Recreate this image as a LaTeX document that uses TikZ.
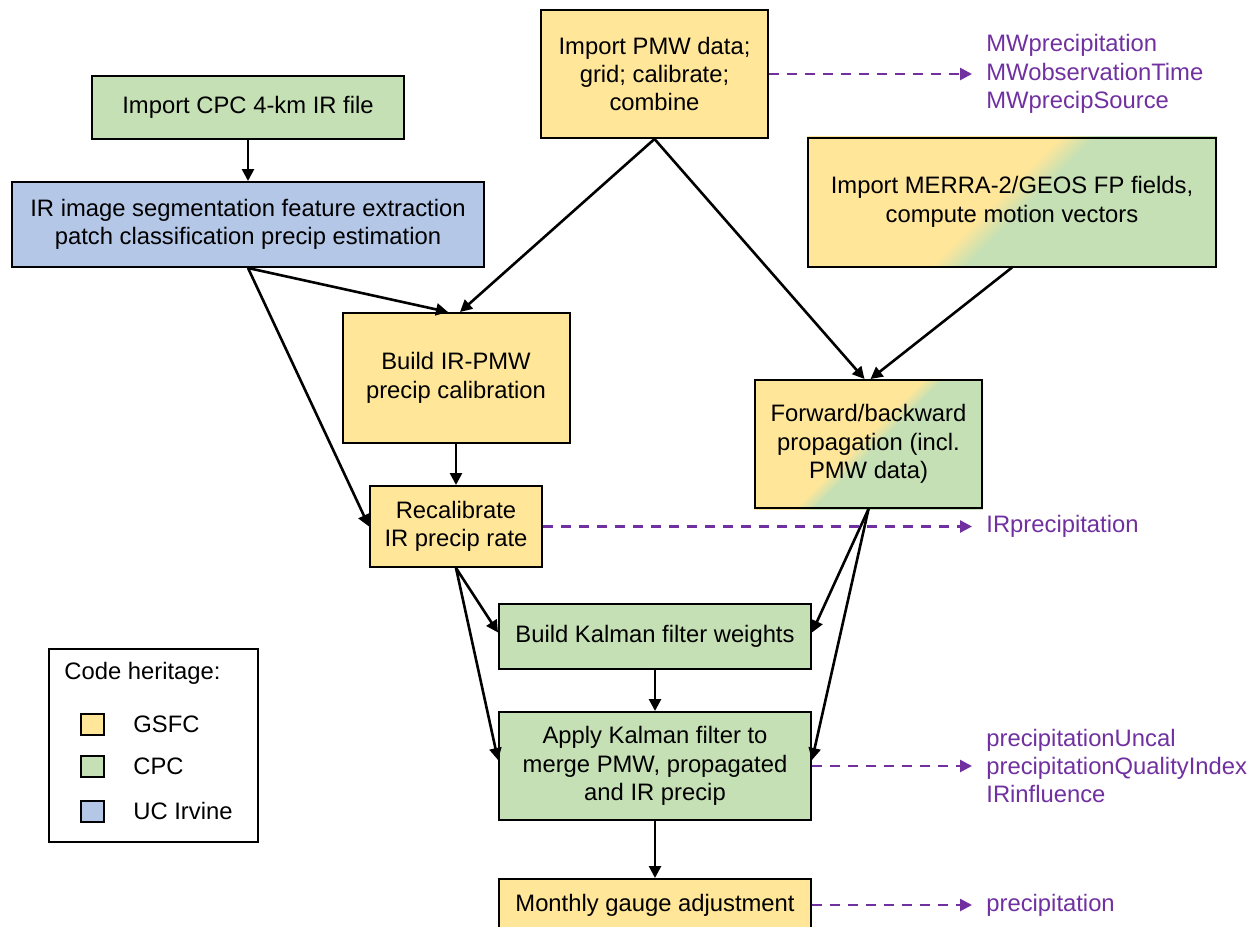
\documentclass[tikz,border=0pt]{standalone}
\usepackage{fontspec}
\setmainfont{Liberation Sans}
\usetikzlibrary{arrows.meta, backgrounds}

\definecolor{gsfc}{HTML}{FFE699}
\definecolor{cpc}{HTML}{C5E0B4}
\definecolor{uci}{HTML}{B4C7E7}
\definecolor{outvar}{HTML}{7030A0}
\pgfdeclarehorizontalshading{gsfctocpc}{100bp}{color(0bp)=(gsfc); color(48.5bp)=(gsfc); color(51.5bp)=(cpc); color(100bp)=(cpc)}

\begin{document}
\begin{tikzpicture}[x=0.5pt, y=-0.5pt,
	every node/.style={font=\fontsize{11.9}{14.2}\selectfont},
	box/.style={draw, line width=1pt, align=center, inner sep=0pt},
	flow/.style={-{Triangle[length=6pt, width=6pt]}, line width=1.3pt},
	output/.style={-{Triangle[length=6pt, width=6pt]}, line width=1.3pt, draw=outvar, dash pattern=on 5pt off 4pt},
	outlabel/.style={anchor=west, inner sep=0pt, align=left, text=outvar}]
	\useasboundingbox (0, 0) rectangle (1257, 926);

	\node[box, fill=cpc, minimum width=156pt, minimum height=31.5pt] (cpcfile) at (248, 107.5) {Import CPC 4-km IR file};
	\node[box, fill=uci, minimum width=236pt, minimum height=42.5pt] (irseg) at (248, 224.5) {IR image segmentation feature extraction\\patch classification precip estimation};
	\node[box, fill=gsfc, minimum width=113.5pt, minimum height=64pt] (pmw) at (654.5, 74) {Import PMW data;\\grid; calibrate;\\combine};
	\node[box, minimum width=204pt, minimum height=64.5pt] (merra) at (1012, 202) {Import MERRA-2/GEOS FP fields,\\compute motion vectors};
	\node[box, fill=gsfc, minimum width=113.5pt, minimum height=65pt] (calib) at (456, 378) {Build IR-PMW\\precip calibration};
	\node[box, minimum width=113.5pt, minimum height=64pt] (prop) at (868.5, 444) {Forward/backward\\propagation (incl.\\PMW data)};
	\node[box, fill=gsfc, minimum width=86pt, minimum height=40.5pt] (recal) at (456, 526.5) {Recalibrate\\IR precip rate};
	\node[box, fill=cpc, minimum width=156pt, minimum height=32.5pt] (kweights) at (655, 636.5) {Build Kalman filter weights};
	\node[box, fill=cpc, minimum width=156pt, minimum height=54pt] (kapply) at (655, 766) {Apply Kalman filter to\\merge PMW, propagated\\and IR precip};
	\node[box, fill=gsfc, minimum width=156pt, minimum height=26pt] (gauge) at (655, 905) {Monthly gauge adjustment};

	\begin{scope}[on background layer]
		\foreach \n/\s in {merra/104pt, prop/58pt} {
			\begin{scope}
				\clip (\n.south west) rectangle (\n.north east);
				\shade[shading=gsfctocpc, shading angle=-45] ([shift={(-\s,-\s)}]\n.center) rectangle ([shift={(\s,\s)}]\n.center);
			\end{scope}
		}
	\end{scope}

	\draw[flow] (cpcfile) -- (irseg);
	\draw[flow] (irseg.south) -- ([xshift=-4pt]calib.north);
	\draw[flow] (irseg.south) -- (recal.west);
	\draw[flow] (pmw.south) -- ([xshift=2pt]calib.north);
	\draw[flow] (pmw.south) -- ([xshift=-2pt]prop.north);
	\draw[flow] (merra.south) -- ([xshift=1pt]prop.north);
	\draw[flow] (calib) -- (recal);
	\draw[flow] (recal.south) -- ([yshift=2pt]kweights.west);
	\draw[flow] (recal.south) -- ([yshift=3pt]kapply.west);
	\draw[flow] (prop.south) -- ([yshift=2pt]kweights.east);
	\draw[flow] (prop.south) -- ([yshift=3pt]kapply.east);
	\draw[flow] (kweights) -- (kapply);
	\draw[flow] (kapply) -- (gauge);

	\node[outlabel] (pmwvars) at (986, 74) {MWprecipitation\\MWobservationTime\\MWprecipSource};
	\node[outlabel] (recalvars) at (986, 526.5) {IRprecipitation};
	\node[outlabel] (kapplyvars) at (986, 766) {precipitationUncal\\precipitationQualityIndex\\IRinfluence};
	\node[outlabel] (gaugevars) at (986, 905) {precipitation};
	\foreach \src/\dst in {pmw/pmwvars, recal/recalvars, kapply/kapplyvars, gauge/gaugevars}
		\draw[output] (\src.east) -- ([xshift=-7pt]\dst.west);

	\node[draw, line width=1pt, minimum width=104.5pt, minimum height=96.5pt] (legend) at (153.5, 745.5) {};
	\node[anchor=west, inner sep=0pt] (legendtitle) at (64, 673) {Code heritage:};
	\foreach \c/\t/\y in {gsfc/GSFC/724.5, cpc/CPC/766, uci/UC Irvine/811} {
		\node[draw, fill=\c, line width=1pt, minimum width=11.5pt, minimum height=10.5pt, inner sep=0pt] (key\c) at (92.5, \y) {};
		\node[anchor=west, inner sep=0pt] (name\c) at (133, \y) {\t};
	}
\end{tikzpicture}
\end{document}
